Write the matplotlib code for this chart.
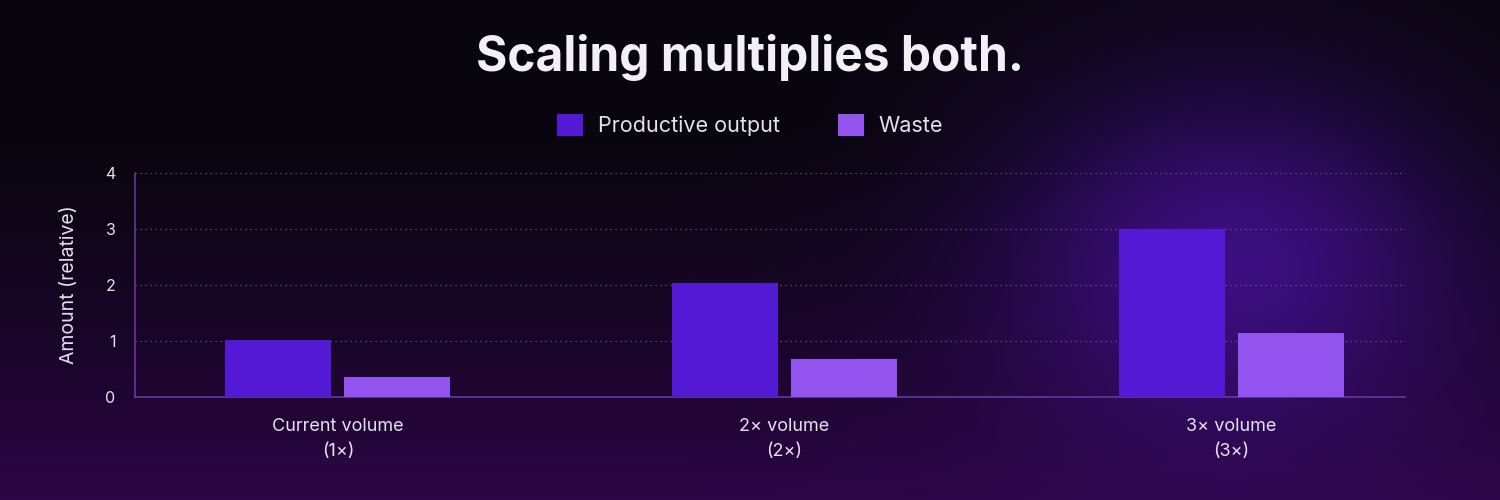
import matplotlib.pyplot as plt
import numpy as np

plt.rcParams['font.family'] = ['Inter', 'DejaVu Sans']

categories = ["Current volume\n(1×)", "2× volume\n(2×)", "3× volume\n(3×)"]
productive = [1.02, 2.03, 3.0]
waste = [0.35, 0.68, 1.15]
series_names = ["Productive output", "Waste"]

PROD = "#5419d4"
WASTE = "#9353ee"
TEXT = "#e6e0ee"
AXIS = "#6b3aa6"
GRID = "#6a5580"

fig = plt.figure(figsize=(15, 5), dpi=100)

# background: dark top fading to purple bottom, plus glow behind the 3x group
bg = fig.add_axes([0, 0, 1, 1])
h, w = 250, 750
yy, xx = np.mgrid[0:h, 0:w]
t = yy / (h - 1)
top = np.array([9, 5, 14]) / 255
bot = np.array([44, 6, 70]) / 255
t2 = np.clip((t - 0.25) / 0.75, 0, 1) ** 1.3
img = top[None, None, :] * (1 - t2[..., None]) + bot[None, None, :] * t2[..., None]
d = np.hypot((xx - 615) / 140, (yy - 130) / 110)
glow = np.exp(-d ** 2 * 1.5)
glow_col = np.array([72, 18, 160]) / 255
img = img * (1 - 0.75 * glow[..., None]) + glow_col[None, None, :] * 0.75 * glow[..., None]
bg.imshow(img, aspect="auto", extent=[0, 1, 0, 1], origin="upper")
bg.axis("off")

ax = fig.add_axes([0.09, 0.206, 0.847, 0.448])
ax.patch.set_alpha(0)

x = np.arange(len(categories))
bw = 0.237
ax.bar(x - 0.133, productive, bw, color=PROD, label=series_names[0], zorder=3)
ax.bar(x + 0.133, waste, bw, color=WASTE, label=series_names[1], zorder=3)

ax.set_xlim(-0.454, 2.39)
ax.set_ylim(0, 4)
ax.set_yticks([0, 1, 2, 3, 4])
ax.set_xticks(x)
ax.set_xticklabels(categories, fontsize=13, color=TEXT, linespacing=1.6)
ax.tick_params(axis="y", labelsize=11.5, colors=TEXT, length=0, pad=14)
ax.tick_params(axis="x", length=0, pad=15)
ax.set_ylabel("Amount (relative)", fontsize=14, color=TEXT, labelpad=20)

ax.grid(axis="y", color=GRID, ls=(0, (1, 3)), lw=0.9, zorder=0)
for s in ("top", "right"):
    ax.spines[s].set_visible(False)
for s in ("left", "bottom"):
    ax.spines[s].set_color(AXIS)
    ax.spines[s].set_linewidth(1.1)

fig.text(0.5, 0.885, "Scaling multiplies both.", ha="center", va="center",
         fontsize=34.5, fontweight="bold", color="#f2eff6")

leg = fig.legend(loc="center", bbox_to_anchor=(0.5, 0.75), ncol=2, frameon=False,
                 fontsize=15.5, handlelength=1.2, handleheight=1.2,
                 columnspacing=2.7, handletextpad=0.7)
for txt in leg.get_texts():
    txt.set_color(TEXT)

fig.savefig("out.png", dpi=100)
